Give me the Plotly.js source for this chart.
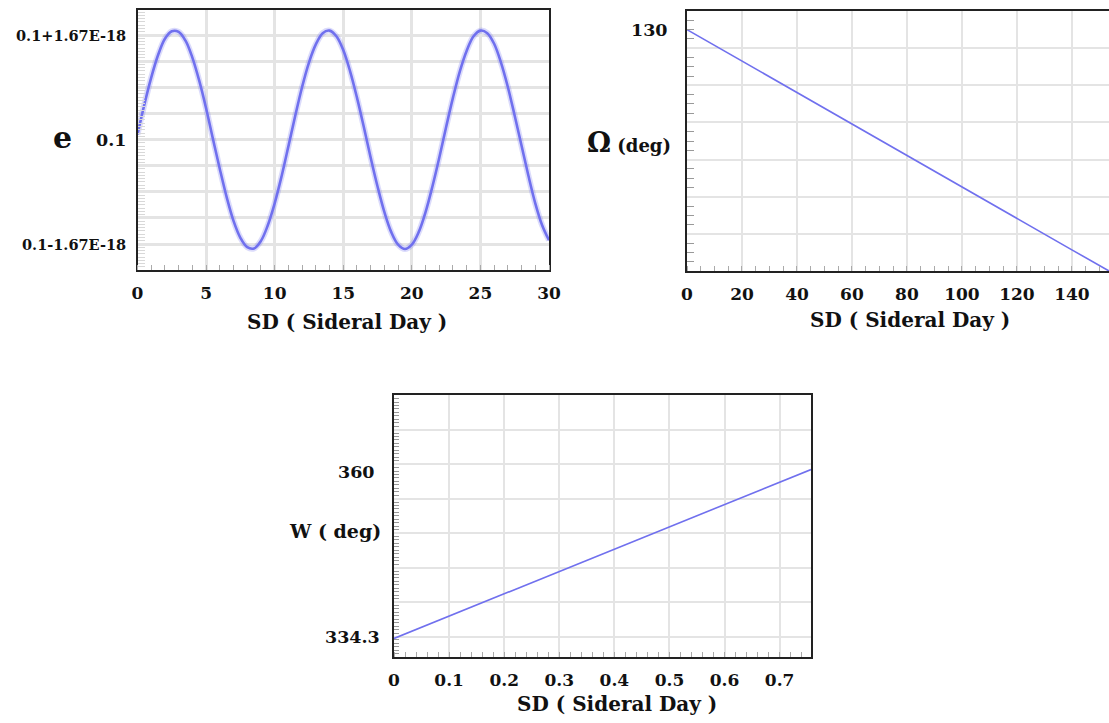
<!DOCTYPE html>
<html>
<head>
<meta charset="utf-8">
<script src="https://cdn.plot.ly/plotly-3.0.1.min.js"></script>
<style>html,body{margin:0;padding:0;background:#fff;}#chart{width:1109px;height:723px;}</style>
</head>
<body>
<div id="chart"></div>
<script>
// ---- Data ----
// Panel 1: eccentricity, deviation from 0.1 in units of 1E-18
const eSD = [0,0.5,1,1.5,2,2.5,3,3.5,4,4.5,5,5.5,6,6.5,7,7.5,8,8.5,9,9.5,10,10.5,11,11.5,12,12.5,13,13.5,14,14.5,15,15.5,16,16.5,17,17.5,18,18.5,19,19.5,20,20.5,21,21.5,22,22.5,23,23.5,24,24.5,25,25.5,26,26.5,27,27.5,28,28.5,29,29.5,30];
const eDev = [0.08,0.56,0.99,1.35,1.61,1.73,1.72,1.58,1.31,0.94,0.50,0.01,-0.47,-0.92,-1.30,-1.57,-1.72,-1.74,-1.62,-1.37,-1.02,-0.59,-0.11,0.38,0.84,1.23,1.52,1.70,1.74,1.65,1.43,1.09,0.67,0.20,-0.29,-0.75,-1.16,-1.48,-1.68,-1.75,-1.68,-1.48,-1.16,-0.75,-0.29,0.20,0.67,1.09,1.42,1.65,1.74,1.70,1.53,1.23,0.84,0.38,-0.10,-0.58,-1.02,-1.37,-1.61];
const eTickVals = [1.67, 0, -1.67];
const eTickText = ['0.1+1.67E-18', '0.1', '0.1-1.67E-18'];

// Panel 2: right ascension of ascending node
const omegaSD  = [0, 20, 40, 60, 80, 100, 120, 140, 153.5];
const omegaDeg = [130, 121.5, 113.1, 104.6, 96.1, 87.6, 79.2, 70.7, 65.0];
const omegaTickVals = [130];
const omegaTickText = ['130'];

// Panel 3: argument of perigee
const wSD  = [0, 0.1, 0.2, 0.3, 0.4, 0.5, 0.6, 0.7, 0.757];
const wDeg = [334.0, 337.5, 341.0, 344.5, 348.0, 351.4, 354.9, 358.4, 360.4];
const wTickVals = [334.3, 360];
const wTickText = ['334.3', '360'];

const xTitle = 'SD ( Sideral Day )';

// ---- Styling ----
const W = 1109, H = 723;
const FONT = 'DejaVu Serif';
const px = v => v / W;
const py = v => 1 - v / H;
const lineBlue = 'rgb(112,112,238)';
const gridC = '#e4e4e4';

function xAx(domain, anchor, range, dtick, minorDtick, gw) {
  return {
    domain: domain, anchor: anchor, range: range,
    tickmode: 'linear', tick0: 0, dtick: dtick,
    showgrid: true, gridcolor: gridC, gridwidth: gw,
    zeroline: false, showline: true, linecolor: '#222', linewidth: 2, mirror: true,
    ticks: 'outside', ticklen: 7, tickcolor: 'rgba(0,0,0,0)',
    tickfont: {family: FONT, size: 17, weight: 'bold', color: '#111'},
    minor: {dtick: minorDtick, ticks: 'inside', ticklen: 5, tickcolor: '#aaa', tickwidth: 1, showgrid: false},
    fixedrange: true
  };
}
function yAx(domain, anchor, range, tick0, dtick, minorDtick, gw, minorColor, minorLen, mirror) {
  return {
    domain: domain, anchor: anchor, range: range,
    tickmode: 'linear', tick0: tick0, dtick: dtick,
    showgrid: true, gridcolor: gridC, gridwidth: gw,
    zeroline: false, showline: true, linecolor: '#222', linewidth: 2, mirror: mirror,
    showticklabels: false, ticks: '',
    minor: {tick0: tick0, dtick: minorDtick, ticks: 'inside', ticklen: minorLen, tickcolor: minorColor, tickwidth: 1, showgrid: false},
    fixedrange: true
  };
}

const traces = [
  {x: eSD, y: eDev, xaxis: 'x', yaxis: 'y', mode: 'lines', line: {color: 'rgba(112,112,238,0.25)', width: 6, shape: 'spline'}, hoverinfo: 'skip'},
  {x: eSD, y: eDev, xaxis: 'x', yaxis: 'y', mode: 'lines', line: {color: lineBlue, width: 2.6, shape: 'spline'}, hoverinfo: 'skip'},
  {x: omegaSD, y: omegaDeg, xaxis: 'x2', yaxis: 'y2', mode: 'lines', line: {color: lineBlue, width: 1.6}, hoverinfo: 'skip'},
  {x: wSD, y: wDeg, xaxis: 'x3', yaxis: 'y3', mode: 'lines', line: {color: lineBlue, width: 1.6}, hoverinfo: 'skip'}
];

const lblFont = (s) => ({family: FONT, size: s, weight: 'bold', color: '#111'});
const annotations = [];
// y tick labels built from the arrays, placed through the data axes
eTickVals.forEach((v, i) => annotations.push({
  xref: 'paper', yref: 'y', x: px(128), y: v, xanchor: 'right', yanchor: 'middle',
  text: eTickText[i], showarrow: false, font: lblFont(eTickText[i].length > 4 ? 14.5 : 17.5)
}));
omegaTickVals.forEach((v, i) => annotations.push({
  xref: 'paper', yref: 'y2', x: px(670), y: v, xanchor: 'right', yanchor: 'middle',
  text: omegaTickText[i], showarrow: false, font: lblFont(17.5)
}));
wTickVals.forEach((v, i) => annotations.push({
  xref: 'paper', yref: 'y3', x: px(i === 0 ? 382 : 377), y: v, xanchor: 'right', yanchor: 'middle',
  text: wTickText[i], showarrow: false, font: lblFont(17.5)
}));
// axis titles
annotations.push({xref: 'paper', yref: 'paper', x: px(62), y: py(137), xanchor: 'center', yanchor: 'middle', text: 'e', showarrow: false, font: lblFont(30)});
annotations.push({xref: 'paper', yref: 'paper', x: px(673), y: py(143), xanchor: 'right', yanchor: 'middle', text: '<span style="font-size:27px">Ω</span> (deg)', showarrow: false, font: lblFont(18)});
annotations.push({xref: 'paper', yref: 'paper', x: px(383), y: py(531), xanchor: 'right', yanchor: 'middle', text: 'W ( deg)', showarrow: false, font: lblFont(19)});
annotations.push({xref: 'paper', yref: 'paper', x: px(347), y: py(322), xanchor: 'center', yanchor: 'middle', text: xTitle, showarrow: false, font: lblFont(20)});
annotations.push({xref: 'paper', yref: 'paper', x: px(910), y: py(320), xanchor: 'center', yanchor: 'middle', text: xTitle, showarrow: false, font: lblFont(20)});
annotations.push({xref: 'paper', yref: 'paper', x: px(617), y: py(704), xanchor: 'center', yanchor: 'middle', text: xTitle, showarrow: false, font: lblFont(20)});

const layout = {
  width: W, height: H,
  margin: {l: 0, r: 0, t: 0, b: 0},
  paper_bgcolor: '#fff', plot_bgcolor: '#fff',
  showlegend: false,
  xaxis:  xAx([px(137.5), px(549)], 'y',  [0, 30], 5, 1, 3),
  yaxis:  yAx([py(270), py(10)], 'x', [-2.085, 2.07], 0, 0.4175, 0.0521875, 3, '#d8d8d8', 7, true),
  xaxis2: xAx([px(687), 1], 'y2', [0, 153.5], 20, 5, 2),
  yaxis2: yAx([py(271), py(11)], 'x2', [65, 135], 65, 10, 2.5, 2, '#999', 7, false),
  xaxis3: xAx([px(394), px(811)], 'y3', [0, 0.757], 0.1, 0.02, 2),
  yaxis3: yAx([py(657), py(395)], 'x3', [331.1, 372.05], 334.3, 5.39, 0.539, 2, '#999', 5, true),
  annotations: annotations
};

Plotly.newPlot('chart', traces, layout, {displayModeBar: false, staticPlot: true});
</script>
</body>
</html>
